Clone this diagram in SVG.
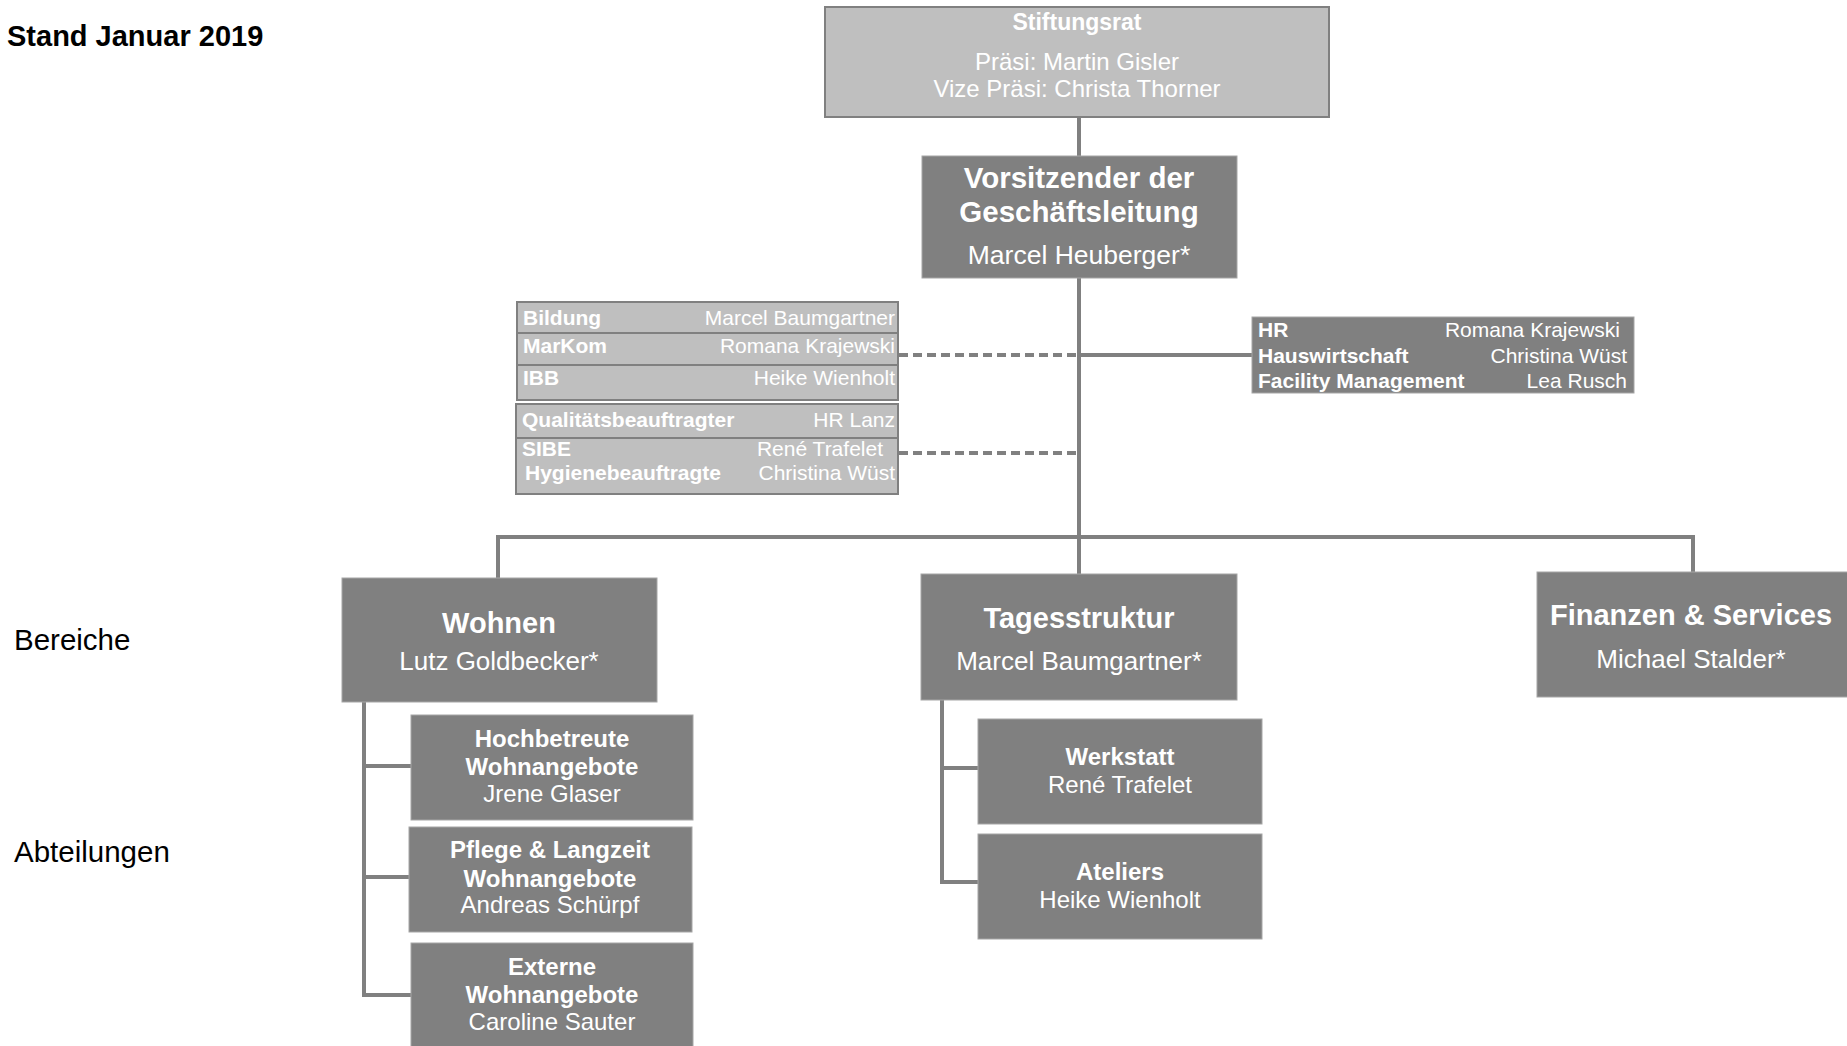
<svg xmlns="http://www.w3.org/2000/svg" width="1847" height="1046" viewBox="0 0 1847 1046">
<style>
text{font-family:"Liberation Sans",Arial,sans-serif;}
.b{font-weight:bold;}
.w{fill:#ffffff;}
.c{text-anchor:middle;}
.e{text-anchor:end;}
.dark{fill:#808080;stroke:#a6a6a6;stroke-width:1;}
.light{fill:#bfbfbf;stroke:#808080;stroke-width:2;}
.con{fill:none;stroke:#808080;stroke-width:4;}
.dash{fill:none;stroke:#808080;stroke-width:4;stroke-dasharray:9 5;}
.lab{fill:#000000;font-size:29.5px;}
</style>
<rect width="1847" height="1046" fill="#ffffff"/>
<text x="7" y="46" class="b" font-size="29" fill="#000000">Stand Januar 2019</text>
<text x="14" y="650" class="lab">Bereiche</text>
<text x="14" y="862" class="lab">Abteilungen</text>

<g id="connectors">
<line class="con" x1="1079" y1="117" x2="1079" y2="574"/>
<line class="con" x1="1079" y1="355" x2="1253" y2="355"/>
<line class="dash" x1="899" y1="355" x2="1077" y2="355"/>
<line class="dash" x1="899" y1="453" x2="1077" y2="453"/>
<polyline class="con" points="498,578 498,537 1693,537 1693,572"/>
<polyline class="con" points="364,702 364,995 411,995"/>
<line class="con" x1="364" y1="766" x2="411" y2="766"/>
<line class="con" x1="364" y1="877" x2="409" y2="877"/>
<polyline class="con" points="942,700 942,882 978,882"/>
<line class="con" x1="942" y1="768" x2="978" y2="768"/>
</g>

<g id="stiftungsrat">
<rect class="light" x="825" y="7" width="504" height="110"/>
<text x="1077" y="30" class="w b c" font-size="23">Stiftungsrat</text>
<text x="1077" y="70" class="w c" font-size="24">Präsi: Martin Gisler</text>
<text x="1077" y="97" class="w c" font-size="24">Vize Präsi: Christa Thorner</text>
</g>

<g id="vorsitz">
<rect class="dark" x="922" y="156" width="315" height="122"/>
<text x="1079" y="188" class="w b c" font-size="29.5">Vorsitzender der</text>
<text x="1079" y="222" class="w b c" font-size="29.5">Geschäftsleitung</text>
<text x="1079" y="264" class="w c" font-size="26.5">Marcel Heuberger*</text>
</g>

<g id="stab-links-1">
<rect class="light" x="517" y="302" width="381" height="31"/>
<rect class="light" x="517" y="333" width="381" height="32"/>
<rect class="light" x="517" y="365" width="381" height="35"/>
<text x="523" y="325" class="w b" font-size="21">Bildung</text>
<text x="895" y="325" class="w e" font-size="21">Marcel Baumgartner</text>
<text x="523" y="353" class="w b" font-size="21">MarKom</text>
<text x="895" y="353" class="w e" font-size="21">Romana Krajewski</text>
<text x="523" y="385" class="w b" font-size="21">IBB</text>
<text x="895" y="385" class="w e" font-size="21">Heike Wienholt</text>
</g>

<g id="stab-links-2">
<rect class="light" x="516" y="404" width="382" height="34"/>
<rect class="light" x="516" y="438" width="382" height="56"/>
<text x="522" y="427" class="w b" font-size="21">Qualitätsbeauftragter</text>
<text x="895" y="427" class="w e" font-size="21">HR Lanz</text>
<text x="522" y="456" class="w b" font-size="21">SIBE</text>
<text x="883" y="456" class="w e" font-size="21">René Trafelet</text>
<text x="525" y="480" class="w b" font-size="21">Hygienebeauftragte</text>
<text x="895" y="480" class="w e" font-size="21">Christina Wüst</text>
</g>

<g id="stab-rechts">
<rect class="dark" x="1252" y="317" width="382" height="76"/>
<text x="1258" y="337" class="w b" font-size="21">HR</text>
<text x="1620" y="337" class="w e" font-size="21">Romana Krajewski</text>
<text x="1258" y="363" class="w b" font-size="21">Hauswirtschaft</text>
<text x="1627" y="363" class="w e" font-size="21">Christina Wüst</text>
<text x="1258" y="388" class="w b" font-size="21">Facility Management</text>
<text x="1627" y="388" class="w e" font-size="21">Lea Rusch</text>
</g>

<g id="wohnen">
<rect class="dark" x="342" y="578" width="315" height="124"/>
<text x="499" y="633" class="w b c" font-size="29">Wohnen</text>
<text x="499" y="670" class="w c" font-size="26">Lutz Goldbecker*</text>
</g>

<g id="tagesstruktur">
<rect class="dark" x="921" y="574" width="316" height="126"/>
<text x="1079" y="628" class="w b c" font-size="29">Tagesstruktur</text>
<text x="1079" y="670" class="w c" font-size="26">Marcel Baumgartner*</text>
</g>

<g id="finanzen">
<rect class="dark" x="1537" y="572" width="312" height="125"/>
<text x="1691" y="625" class="w b c" font-size="29">Finanzen &amp; Services</text>
<text x="1691" y="668" class="w c" font-size="26">Michael Stalder*</text>
</g>

<g id="hochbetreute">
<rect class="dark" x="411" y="715" width="282" height="105"/>
<text x="552" y="747" class="w b c" font-size="24">Hochbetreute</text>
<text x="552" y="775" class="w b c" font-size="24">Wohnangebote</text>
<text x="552" y="802" class="w c" font-size="24">Jrene Glaser</text>
</g>

<g id="pflege">
<rect class="dark" x="409" y="827" width="283" height="105"/>
<text x="550" y="858" class="w b c" font-size="24">Pflege &amp; Langzeit</text>
<text x="550" y="887" class="w b c" font-size="24">Wohnangebote</text>
<text x="550" y="913" class="w c" font-size="24">Andreas Schürpf</text>
</g>

<g id="externe">
<rect class="dark" x="411" y="943" width="282" height="110"/>
<text x="552" y="975" class="w b c" font-size="24">Externe</text>
<text x="552" y="1003" class="w b c" font-size="24">Wohnangebote</text>
<text x="552" y="1030" class="w c" font-size="24">Caroline Sauter</text>
</g>

<g id="werkstatt">
<rect class="dark" x="978" y="719" width="284" height="105"/>
<text x="1120" y="765" class="w b c" font-size="24">Werkstatt</text>
<text x="1120" y="793" class="w c" font-size="24">René Trafelet</text>
</g>

<g id="ateliers">
<rect class="dark" x="978" y="834" width="284" height="105"/>
<text x="1120" y="880" class="w b c" font-size="24">Ateliers</text>
<text x="1120" y="908" class="w c" font-size="24">Heike Wienholt</text>
</g>
</svg>
